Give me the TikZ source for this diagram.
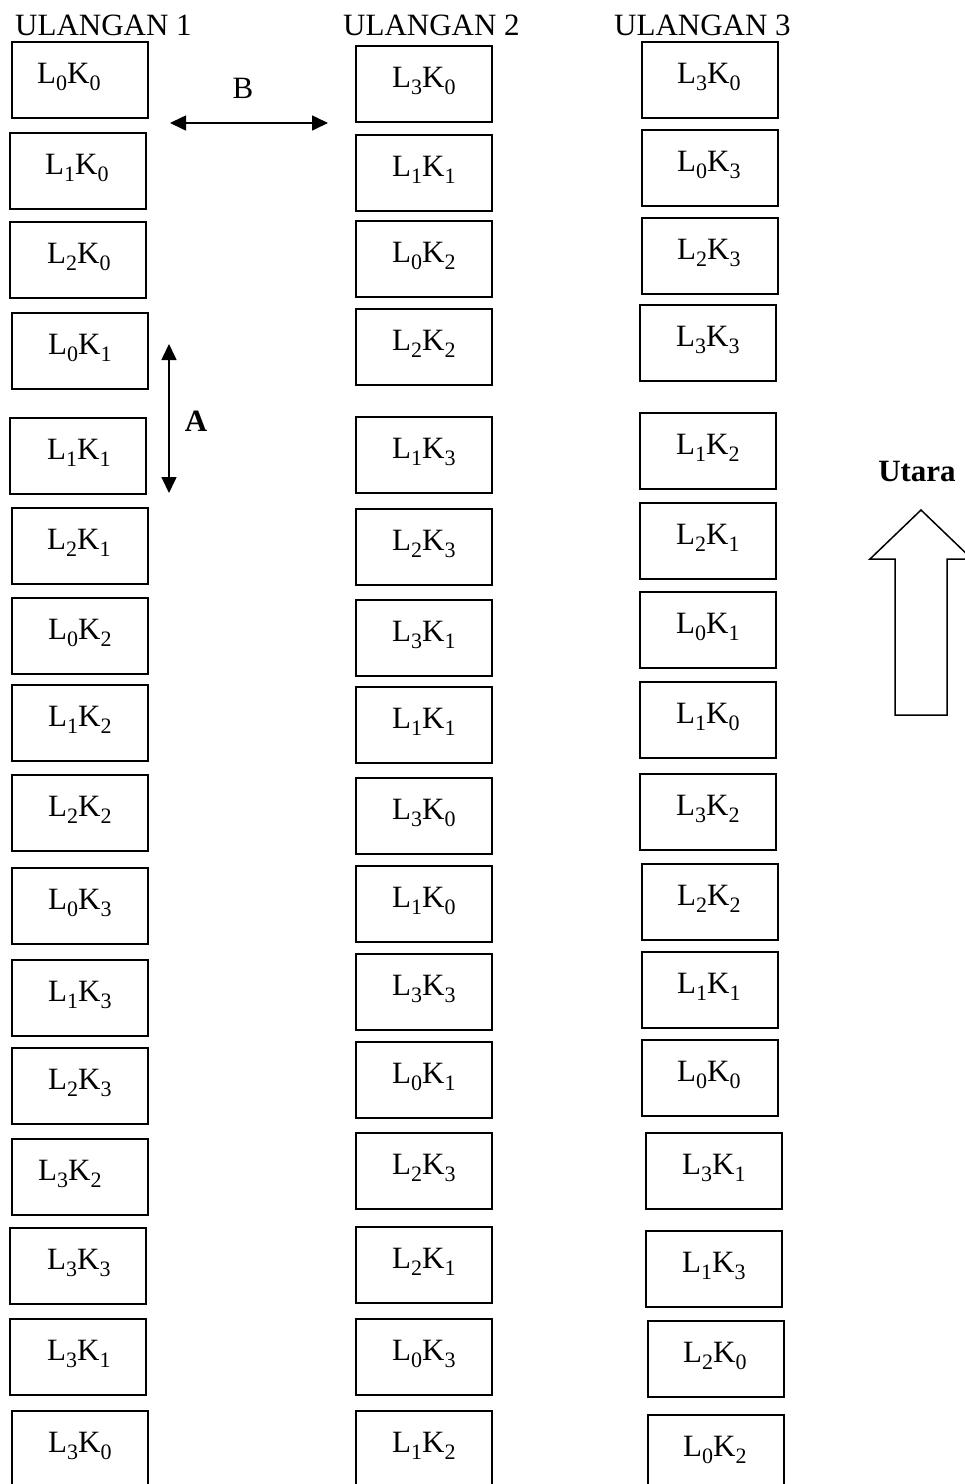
\documentclass[tikz,border=0pt]{standalone}
\usepackage{fontspec}
\setmainfont{Liberation Serif}
\usetikzlibrary{arrows.meta,calc}
\newcommand\sbs[1]{\raisebox{-0.24em}{\fontsize{22}{22}\selectfont #1}}
\newcommand\LK[2]{L\sbs{#1}K\sbs{#2}}
\tikzset{
  plotbox/.style={draw=black, line width=1.8pt, minimum width=136pt, minimum height=76pt,
    anchor=north west, inner sep=0pt, outer sep=0pt},
  plottext/.style={anchor=base west, inner sep=0pt, font=\fontsize{31}{36}\selectfont},
  header/.style={anchor=base west, inner sep=0pt, font=\fontsize{31}{36}\selectfont},
  dimarrow/.style={line width=1.6pt, {Triangle[length=16pt,width=15pt]}-{Triangle[length=16pt,width=15pt]}},
  blockarrow/.style={draw=black, line width=1.5pt, line join=miter},
}
\newcommand\cell[5]{%
  \node[plotbox] (#1) at (#2,#3) {};
  \node[plottext] (#1t) at ($(#1.north west)+(#4,41)$) {#5};}
\begin{document}
\begin{tikzpicture}[x=1pt,y=-1pt]
\useasboundingbox (0,0) rectangle (965,1484);
\clip (0,0) rectangle (965,1484);
% headers
\node[header] (h1) at (15,35) {ULANGAN 1};
\node[header] (h2) at (343,35) {ULANGAN 2};
\node[header] (h3) at (614,35) {ULANGAN 3};
% column 1
\cell{a1}{12}{42}{25}{\LK00}
\cell{a2}{10}{133}{35}{\LK10}
\cell{a3}{10}{222}{37}{\LK20}
\cell{a4}{12}{313}{36}{\LK01}
\cell{a5}{10}{418}{37}{\LK11}
\cell{a6}{12}{508}{35}{\LK21}
\cell{a7}{12}{598}{36}{\LK02}
\cell{a8}{12}{685}{36}{\LK12}
\cell{a9}{12}{775}{36}{\LK22}
\cell{a10}{12}{868}{36}{\LK03}
\cell{a11}{12}{960}{36}{\LK13}
\cell{a12}{12}{1048}{36}{\LK23}
\cell{a13}{12}{1139}{26}{\LK32}
\cell{a14}{10}{1228}{37}{\LK33}
\cell{a15}{10}{1319}{37}{\LK31}
\cell{a16}{12}{1411}{36}{\LK30}
% column 2
\cell{b1}{356}{46}{36}{\LK30}
\cell{b2}{356}{135}{36}{\LK11}
\cell{b3}{356}{221}{36}{\LK02}
\cell{b4}{356}{309}{36}{\LK22}
\cell{b5}{356}{417}{36}{\LK13}
\cell{b6}{356}{509}{36}{\LK23}
\cell{b7}{356}{600}{36}{\LK31}
\cell{b8}{356}{687}{36}{\LK11}
\cell{b9}{356}{778}{36}{\LK30}
\cell{b10}{356}{866}{36}{\LK10}
\cell{b11}{356}{954}{36}{\LK33}
\cell{b12}{356}{1042}{36}{\LK01}
\cell{b13}{356}{1133}{36}{\LK23}
\cell{b14}{356}{1227}{36}{\LK21}
\cell{b15}{356}{1319}{36}{\LK03}
\cell{b16}{356}{1411}{36}{\LK12}
% column 3
\cell{c1}{642}{42}{35}{\LK30}
\cell{c2}{642}{130}{35}{\LK03}
\cell{c3}{642}{218}{35}{\LK23}
\cell{c4}{640}{305}{36}{\LK33}
\cell{c5}{640}{413}{36}{\LK12}
\cell{c6}{640}{503}{36}{\LK21}
\cell{c7}{640}{592}{36}{\LK01}
\cell{c8}{640}{682}{36}{\LK10}
\cell{c9}{640}{774}{36}{\LK32}
\cell{c10}{642}{864}{35}{\LK22}
\cell{c11}{642}{952}{35}{\LK11}
\cell{c12}{642}{1040}{35}{\LK00}
\cell{c13}{646}{1133}{36}{\LK31}
\cell{c14}{646}{1231}{36}{\LK13}
\cell{c15}{648}{1321}{35}{\LK20}
\cell{c16}{648}{1415}{35}{\LK02}
% distance arrows
\coordinate (Bl) at (170,123);
\coordinate (Br) at (328,123);
\draw[dimarrow] (Bl) -- (Br);
\node[inner sep=0pt, font=\fontsize{31}{36}\selectfont] (Blab) at (243,88) {B};
\coordinate (At) at (169,344);
\coordinate (Ab) at (169,493);
\draw[dimarrow] (At) -- (Ab);
\node[inner sep=0pt, font=\fontsize{31}{36}\selectfont\bfseries] (Alab) at (196,421) {A};
% north arrow
\node[anchor=base, inner sep=0pt, font=\fontsize{31}{36}\selectfont\bfseries] (utara) at (917,481) {Utara};
\draw[blockarrow] (895,715) -- (895,559) -- (870,559) -- (921,510) -- (972,559) -- (947,559) -- (947,715) -- cycle;
\end{tikzpicture}
\end{document}
